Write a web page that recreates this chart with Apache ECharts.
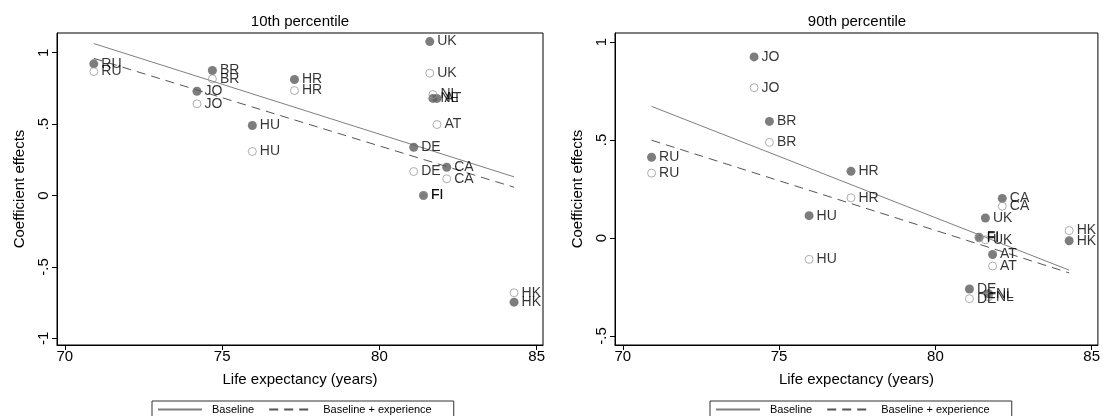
<!DOCTYPE html>
<html>
<head>
<meta charset="utf-8">
<script src="https://cdn.jsdelivr.net/npm/echarts@6/dist/echarts.min.js"></script>
<style>
  html, body { margin: 0; padding: 0; background: #fff; }
  #chart { width: 1103px; height: 416px; }
</style>
</head>
<body>
<div id="chart"></div>
<script>
// Countries and their life expectancy (years)
const countries = ['RU', 'BR', 'JO', 'HU', 'HR', 'UK', 'NL', 'AT', 'DE', 'CA', 'FI', 'HK'];
const lifeExpectancy = [70.92, 74.69, 74.20, 75.96, 77.30, 81.60, 81.70, 81.83, 81.09, 82.14, 81.40, 84.28];

// 10th percentile coefficient effects
const p10Baseline = [0.922, 0.875, 0.730, 0.490, 0.812, 1.078, 0.680, 0.680, 0.338, 0.198, 0.000, -0.747];
const p10Experience = [0.868, 0.817, 0.642, 0.308, 0.735, 0.857, 0.707, 0.497, 0.168, 0.117, 0.000, -0.681];

// 90th percentile coefficient effects
const p90Baseline = [0.412, 0.595, 0.924, 0.114, 0.340, 0.102, -0.284, -0.084, -0.260, 0.202, 0.004, -0.014];
const p90Experience = [0.331, 0.488, 0.767, -0.109, 0.205, -0.009, -0.300, -0.143, -0.310, 0.162, 0.000, 0.038];

const xTicks = [70, 75, 80, 85];
const yTicksLeft = [-1, -0.5, 0, 0.5, 1];
const yTicksRight = [-0.5, 0, 0.5, 1];

const FONT = 'Liberation Sans, Arial, sans-serif';

function fmtTick(v) {
  if (v === 0) return '0';
  return String(v).replace(/^(-?)0\./, '$1.');
}

function points(ys) {
  return countries.map((c, i) => ({ name: c, value: [lifeExpectancy[i], ys[i]] }));
}

// Least-squares fit drawn across the observed range of life expectancy
function fitLine(ys) {
  const n = ys.length;
  let mx = 0, my = 0;
  for (let i = 0; i < n; i++) { mx += lifeExpectancy[i]; my += ys[i]; }
  mx /= n; my /= n;
  let sxy = 0, sxx = 0;
  for (let i = 0; i < n; i++) {
    const dx = lifeExpectancy[i] - mx;
    sxy += dx * (ys[i] - my);
    sxx += dx * dx;
  }
  const b = sxy / sxx, a = my - b * mx;
  const x0 = Math.min(...lifeExpectancy), x1 = Math.max(...lifeExpectancy);
  return [[x0, a + b * x0], [x1, a + b * x1]];
}

const pointLabel = {
  show: true, position: 'right', distance: 3,
  formatter: p => p.name, color: '#000', fontSize: 14, fontFamily: FONT
};

function panelSeries(idx, base, exper) {
  return [
    {
      type: 'line', name: 'Baseline', xAxisIndex: idx, yAxisIndex: idx,
      data: fitLine(base), symbol: 'none', silent: true,
      itemStyle: { color: '#7f7f7f' },
      lineStyle: { color: '#7f7f7f', width: 1 }, z: 1
    },
    {
      type: 'line', name: 'Baseline + experience', xAxisIndex: idx, yAxisIndex: idx,
      data: fitLine(exper), symbol: 'none', silent: true,
      itemStyle: { color: '#555555' },
      lineStyle: { color: '#555555', width: 1, type: [9, 6] }, z: 1
    },
    {
      type: 'scatter', name: 'baseline points', xAxisIndex: idx, yAxisIndex: idx,
      data: points(base), symbol: 'circle', symbolSize: 9,
      itemStyle: { color: '#5c5c5c' }, label: pointLabel, z: 3
    },
    {
      type: 'scatter', name: 'experience points', xAxisIndex: idx, yAxisIndex: idx,
      data: points(exper), symbol: 'circle', symbolSize: 8,
      itemStyle: { color: 'rgba(0,0,0,0)', borderColor: '#9a9a9a', borderWidth: 1 },
      label: pointLabel, z: 4
    }
  ];
}

function xAxis(idx) {
  return {
    type: 'value', gridIndex: idx, min: 69.75, max: 85.2,
    name: 'Life expectancy (years)', nameLocation: 'middle', nameGap: 27,
    nameTextStyle: { color: '#000', fontSize: 15, fontFamily: FONT },
    axisLine: { onZero: false, lineStyle: { color: '#000', width: 1 } },
    axisTick: { show: true, length: 5, customValues: xTicks, lineStyle: { color: '#000' } },
    axisLabel: { customValues: xTicks, color: '#000', fontSize: 15, fontFamily: FONT, margin: 4 },
    splitLine: { show: false }
  };
}

function yAxis(idx, min, max, ticks) {
  return {
    type: 'value', gridIndex: idx, min: min, max: max,
    name: 'Coefficient effects', nameLocation: 'middle', nameGap: 30, nameRotate: 90,
    nameTextStyle: { color: '#000', fontSize: 15, fontFamily: FONT },
    axisLine: { onZero: false, lineStyle: { color: '#000', width: 1 } },
    axisTick: { show: true, length: 5, customValues: ticks, lineStyle: { color: '#000' } },
    axisLabel: {
      customValues: ticks, color: '#000', fontSize: 15, fontFamily: FONT,
      rotate: 90, margin: 6, formatter: fmtTick
    },
    splitLine: { show: false }
  };
}

function legend(left) {
  return {
    left: left, top: 401, orient: 'horizontal',
    data: ['Baseline', 'Baseline + experience'],
    itemWidth: 44, itemHeight: 10, itemGap: 14,
    padding: [3, 22, 3, 5],
    borderColor: '#333', borderWidth: 1,
    itemStyle: { opacity: 0 },
    textStyle: { color: '#000', fontSize: 11, fontFamily: FONT, padding: [0, 0, 0, 5] },
    selectedMode: false
  };
}

const chart = echarts.init(document.getElementById('chart'), null, { renderer: 'canvas' });
chart.setOption({
  animation: false,
  backgroundColor: '#fff',
  title: [
    { text: '10th percentile', left: 300, top: 14, textAlign: 'center', padding: 0,
      textStyle: { color: '#000', fontSize: 15, fontWeight: 'normal', fontFamily: FONT } },
    { text: '90th percentile', left: 857, top: 14, textAlign: 'center', padding: 0,
      textStyle: { color: '#000', fontSize: 15, fontWeight: 'normal', fontFamily: FONT } }
  ],
  legend: [legend(152), legend(710)],
  grid: [
    { left: 57, top: 33, width: 486, height: 312, show: true, borderColor: '#000', borderWidth: 1 },
    { left: 615, top: 33, width: 485, height: 312, show: true, borderColor: '#000', borderWidth: 1 }
  ],
  xAxis: [xAxis(0), xAxis(1)],
  yAxis: [yAxis(0, -1.047, 1.138, yTicksLeft), yAxis(1, -0.546, 1.046, yTicksRight)],
  series: [
    ...panelSeries(0, p10Baseline, p10Experience),
    ...panelSeries(1, p90Baseline, p90Experience)
  ]
});
</script>
</body>
</html>
